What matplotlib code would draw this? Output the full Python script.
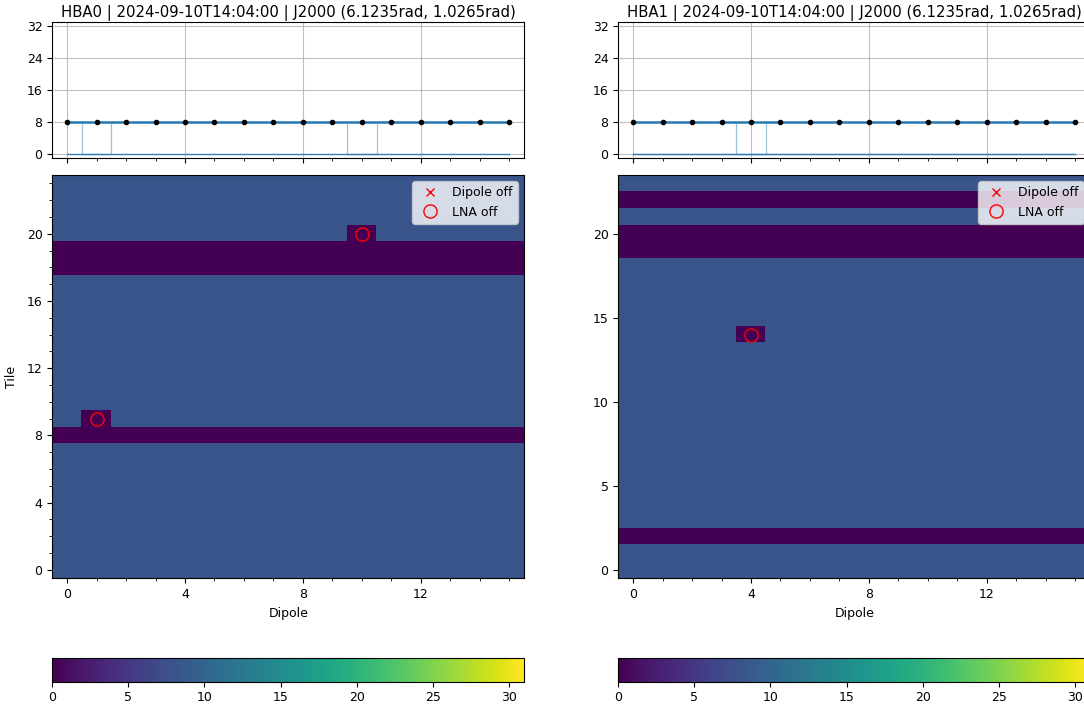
import numpy as np
import matplotlib
matplotlib.use("Agg")
import matplotlib.pyplot as plt
from matplotlib.ticker import MultipleLocator

# ---- data ----
n_tiles = 24
n_dipoles = 16
base_level = 8            # value of working elements
vmin, vmax = 0, 31

titles = ["HBA0 | 2024-09-10T14:04:00 | J2000 (6.1235rad, 1.0265rad)",
          "HBA1 | 2024-09-10T14:04:00 | J2000 (6.1235rad, 1.0265rad)"]

# tiles (rows) entirely off
hba0_off_tiles = [8, 18, 19]
hba1_off_tiles = [2, 19, 20, 22]
# LNA off cells: (dipole, tile)
hba0_lna_off = [(1, 9), (10, 20)]
hba1_lna_off = [(4, 14)]
# Dipole off cells: none
hba0_dipole_off = []
hba1_dipole_off = []

cbar_ticks = [0, 5, 10, 15, 20, 25, 30]
top_yticks = [0, 8, 16, 24, 32]


def build(off_tiles, lna_off):
    g = np.full((n_tiles, n_dipoles), float(base_level))
    for t in off_tiles:
        g[t, :] = 0
    for d, t in lna_off:
        g[t, d] = 0
    return g


panels = [
    (build(hba0_off_tiles, hba0_lna_off), hba0_lna_off, hba0_dipole_off, titles[0], 4),
    (build(hba1_off_tiles, hba1_lna_off), hba1_lna_off, hba1_dipole_off, titles[1], 5),
]

plt.rcParams['font.size'] = 9
W, H = 1084, 706
fig = plt.figure(figsize=(W / 100, H / 100), dpi=100)


def ax_px(x0, y0, x1, y1):
    return fig.add_axes([x0 / W, 1 - y1 / H, (x1 - x0) / W, (y1 - y0) / H])


dip = np.arange(n_dipoles)
for i, (grid, lna, doff, title, ymaj) in enumerate(panels):
    x0 = 52.3 if i == 0 else 618.3
    x1 = x0 + 471.8
    axt = ax_px(x0, 22.3, x1, 158.0)
    axh = ax_px(x0, 175.0, x1, 578.3)
    cax = ax_px(x0, 658.3, x1, 681.7)

    # top: per-tile step lines + median markers
    for t in range(n_tiles):
        axt.step(dip, grid[t], where='mid', color='C0', alpha=0.45, lw=0.9)
    axt.plot(dip, np.median(grid, axis=0), 'k.', ms=6)
    axt.set_xlim(-0.5, n_dipoles - 0.5)
    axt.set_ylim(-1, 33)
    axt.set_yticks(top_yticks)
    axt.xaxis.set_major_locator(MultipleLocator(4))
    axt.xaxis.set_minor_locator(MultipleLocator(1))
    axt.tick_params(labelbottom=False)
    axt.grid(True, alpha=0.8)
    axt.set_title(title, fontsize=10.7, pad=3.5)

    # heatmap
    im = axh.imshow(grid, origin='lower', aspect='auto', cmap='viridis',
                    vmin=vmin, vmax=vmax, interpolation='nearest')
    axh.plot([d for d, t in doff], [t for d, t in doff], 'x', color='red',
             ms=6, label='Dipole off')
    axh.plot([d for d, t in lna], [t for d, t in lna], 'o', mfc='none',
             mec='red', ms=9.5, label='LNA off')
    axh.set_xlim(-0.5, n_dipoles - 0.5)
    axh.set_ylim(-0.5, n_tiles - 0.5)
    axh.xaxis.set_major_locator(MultipleLocator(4))
    axh.xaxis.set_minor_locator(MultipleLocator(1))
    axh.yaxis.set_major_locator(MultipleLocator(ymaj))
    if i == 0:
        axh.yaxis.set_minor_locator(MultipleLocator(1))
        axh.set_ylabel('Tile', labelpad=6)
    axh.set_xlabel('Dipole')
    axh.legend(loc='upper right')

    cb = fig.colorbar(im, cax=cax, orientation='horizontal')
    cb.set_ticks(cbar_ticks)

fig.savefig('out.png', dpi=100)
